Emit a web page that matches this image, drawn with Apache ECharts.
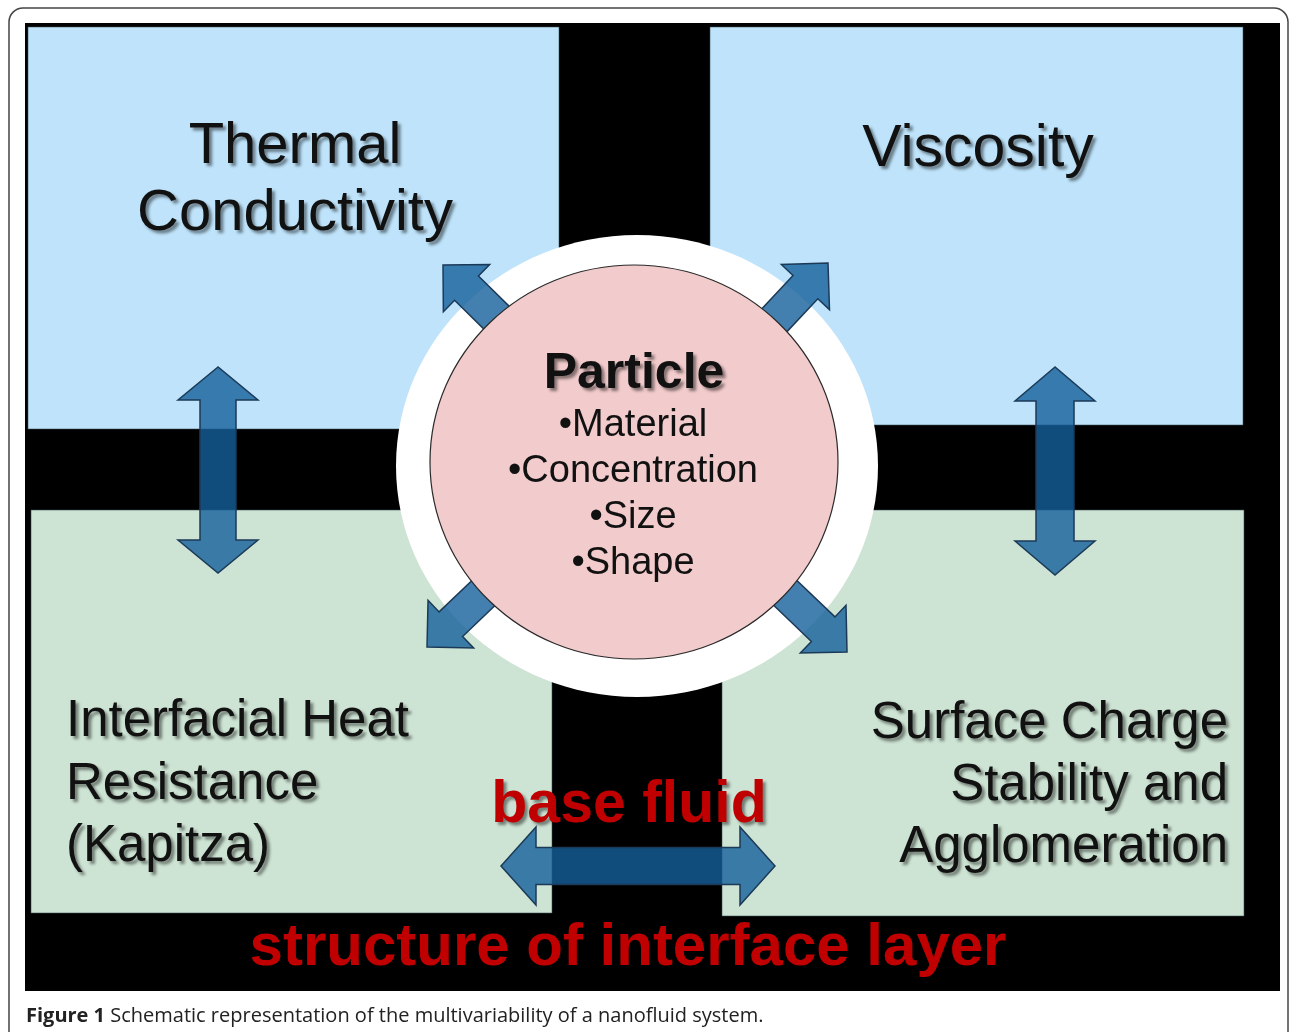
<!DOCTYPE html>
<html>
<head>
<meta charset="utf-8">
<title>Nanofluid system schematic</title>
<script src="https://cdn.jsdelivr.net/npm/echarts@6/dist/echarts.min.js"></script>
<style>
  html, body { margin: 0; padding: 0; background: #fff; }
  #main { width: 1290px; height: 1032px; }
</style>
</head>
<body>
<div id="main"></div>
<script>
// 文字内容
const topLeftLabel = ['Thermal', 'Conductivity'];
const topRightLabel = ['Viscosity'];
const bottomLeftLabel = ['Interfacial Heat', 'Resistance', '(Kapitza)'];
const bottomRightLabel = ['Surface Charge', 'Stability and', 'Agglomeration'];
const particleTitle = 'Particle';
const particleProps = ['Material', 'Concentration', 'Size', 'Shape'];
const baseFluidLabel = 'base fluid';
const interfaceLabel = 'structure of interface layer';
const captionBold = 'Figure 1';
const captionText = 'Schematic representation of the multivariability of a nanofluid system.';

const FONT = '"Liberation Sans", Arial, sans-serif';
const ARROW_FILL = 'rgba(20,95,155,0.8)';
const ARROW_STROKE = '#1c3a57';
const SHADOW = {
  textShadowColor: 'rgba(0,0,0,0.45)', textShadowBlur: 3,
  textShadowOffsetX: 3, textShadowOffsetY: 3
};

// 箭头多边形
function arrowPts(a, b, sw, hw, hl, both) {
  const dx = b[0] - a[0], dy = b[1] - a[1];
  const len = Math.hypot(dx, dy);
  const ux = dx / len, uy = dy / len, px = -uy, py = ux;
  const P = (t, s) => [a[0] + ux * t + px * s, a[1] + uy * t + py * s];
  if (both) {
    return [P(0, 0), P(hl, hw / 2), P(hl, sw / 2), P(len - hl, sw / 2), P(len - hl, hw / 2),
      P(len, 0), P(len - hl, -hw / 2), P(len - hl, -sw / 2), P(hl, -sw / 2), P(hl, -hw / 2)];
  }
  return [P(0, sw / 2), P(len - hl, sw / 2), P(len - hl, hw / 2), P(len, 0),
    P(len - hl, -hw / 2), P(len - hl, -sw / 2), P(0, -sw / 2)];
}

function arrow(a, b, sw, hw, hl, both) {
  return {
    type: 'polygon',
    shape: { points: arrowPts(a, b, sw, hw, hl, both) },
    style: { fill: ARROW_FILL, stroke: ARROW_STROKE, lineWidth: 1.5 }
  };
}

function label(text, x, y, size, opts) {
  opts = opts || {};
  return {
    type: 'text',
    x: x, y: y,
    style: Object.assign({
      text: text,
      font: (opts.bold ? 'bold ' : '') + size + 'px ' + FONT,
      fill: opts.color || '#111',
      textAlign: opts.align || 'center',
      textVerticalAlign: 'middle'
    }, opts.shadow === false ? {} : SHADOW)
  };
}

function box(x, y, w, h, color) {
  return {
    type: 'rect',
    shape: { x: x, y: y, width: w, height: h },
    style: { fill: color, stroke: 'rgba(60,80,90,0.55)', lineWidth: 1 }
  };
}

const elements = [];
// 外框 + 黑底
elements.push({
  type: 'rect', shape: { x: 9, y: 8, width: 1279, height: 1040, r: 14 },
  style: { fill: '#fff', stroke: '#444', lineWidth: 1.5 }
});
elements.push({ type: 'rect', shape: { x: 25, y: 23, width: 1255, height: 968 }, style: { fill: '#000' } });

// 四个区域
elements.push(box(28, 27, 531, 402, '#bee3fa'));
elements.push(box(710, 27, 533, 398, '#bee3fa'));
elements.push(box(31, 510, 521, 403, '#cde3d3'));
elements.push(box(722, 510, 522, 406, '#cde3d3'));

// 白色圆环
elements.push({
  type: 'ellipse', shape: { cx: 637, cy: 466, rx: 241, ry: 231 },
  style: { fill: '#fff' }
});

// 斜向箭头
elements.push(arrow([505, 326], [443, 265], 34, 66, 33, false));
elements.push(arrow([768, 327], [828, 263], 34, 66, 33, false));
elements.push(arrow([495, 582], [427, 647], 34, 66, 33, false));
elements.push(arrow([776, 584], [847, 652], 34, 66, 33, false));

// 粒子圆
elements.push({
  type: 'ellipse', shape: { cx: 634, cy: 462, rx: 204, ry: 197 },
  style: { fill: '#f2cbcc', stroke: '#2a2a2a', lineWidth: 1.2 }
});

// 双向箭头
elements.push(arrow([218, 367], [218, 573], 36, 80, 33, true));
elements.push(arrow([1055, 367], [1055, 575], 38, 80, 34, true));
elements.push(arrow([501, 866], [775, 866], 37, 78, 35, true));

// 文字
topLeftLabel.forEach((t, i) => elements.push(label(t, 295, 147 + i * 67, 58)));
topRightLabel.forEach((t, i) => elements.push(label(t, 978, 150 + i * 67, 59)));
elements.push(label(particleTitle, 634, 374, 50, { bold: true }));
particleProps.forEach((t, i) => elements.push(label('\u2022' + t, 633, 426 + i * 46, 38, { shadow: false })));
bottomLeftLabel.forEach((t, i) => elements.push(label(t, 66, 722 + i * 62.5, 51, { align: 'left' })));
bottomRightLabel.forEach((t, i) => elements.push(label(t, 1228, 724 + i * 62, 51, { align: 'right' })));
elements.push(label(baseFluidLabel, 629, 806, 59, { bold: true, color: '#c00000' }));
elements.push(label(interfaceLabel, 628, 948, 60, { bold: true, color: '#c00000' }));

// 图注
elements.push({
  type: 'text', x: 26, y: 1016,
  style: {
    text: '{b|' + captionBold + '} ' + captionText,
    font: '20px "Open Sans", sans-serif',
    fill: '#222',
    textVerticalAlign: 'middle',
    rich: { b: { fontWeight: 'bold', fontSize: 20, fontFamily: '"Open Sans", sans-serif', fill: '#222' } }
  }
});

const chart = echarts.init(document.getElementById('main'), null, { renderer: 'canvas' });
chart.setOption({
  animation: false,
  backgroundColor: '#fff',
  graphic: { elements: elements }
});
</script>
</body>
</html>
